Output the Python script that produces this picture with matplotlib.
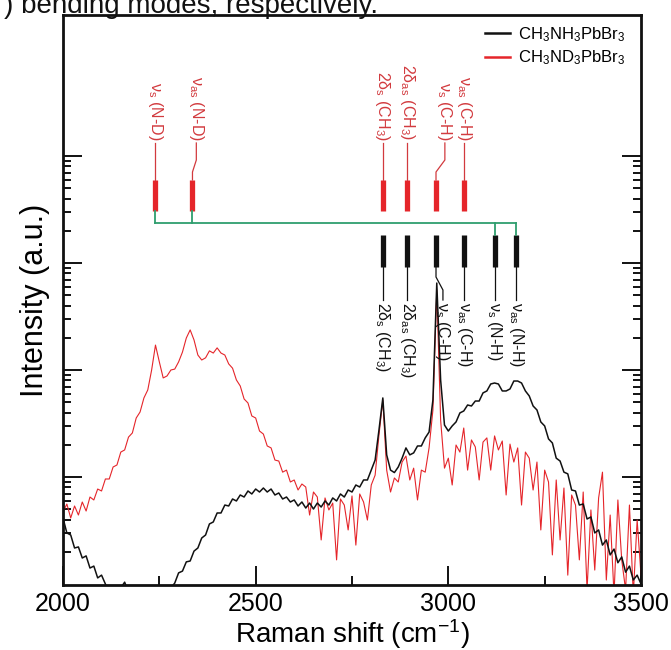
import numpy as np
import matplotlib
matplotlib.use('Agg')
import matplotlib.pyplot as plt
import matplotlib.transforms as mtransforms
from matplotlib.ticker import FixedLocator, NullFormatter

plt.rcParams['font.family'] = ['Liberation Sans', 'DejaVu Sans']
plt.rcParams['mathtext.fontset'] = 'custom'
plt.rcParams['mathtext.rm'] = 'Liberation Sans'
plt.rcParams['mathtext.it'] = 'Liberation Sans:italic'
plt.rcParams['mathtext.bf'] = 'Liberation Sans:bold'
plt.rcParams['mathtext.default'] = 'regular'

# ---------------- data ----------------
raman_shift = np.arange(2000, 3501, 10)

nh_intensity = [
    4.14, 3.00, 2.87, 2.17, 2.22, 1.75, 1.83, 1.41, 1.47, 1.14,
    1.21, 1.00, 0.84, 0.88, 0.79, 0.92, 1.04, 0.84, 0.79, 0.82,
    0.77, 0.81, 0.75, 0.82, 0.77, 0.84, 0.81, 0.86, 0.92, 1.02,
    1.27, 1.32, 1.61, 1.64, 2.03, 2.17, 2.69, 2.87, 3.64, 3.80,
    4.61, 4.61, 5.47, 5.36, 6.23, 5.97, 6.79, 6.50, 7.40, 6.94,
    7.72, 7.24, 7.89, 7.24, 7.72, 6.79, 7.09, 6.23, 6.50, 5.84,
    6.10, 5.36, 5.84, 5.13, 5.71, 5.02, 5.71, 5.24, 5.97, 5.47,
    6.37, 5.97, 6.94, 6.50, 7.56, 7.24, 8.42, 8.06, 9.38, 9.38,
    11.6, 14.4, 27.5, 54.8, 16.1, 11.6, 11.0, 12.4, 15.0, 18.7,
    16.1, 16.8, 19.5, 19.5, 23.2, 26.3, 52.5, 650.0, 80.7, 30.6,
    26.9, 30.0, 32.7, 39.7, 41.4, 47.1, 46.1, 51.3, 51.3, 61.1,
    63.7, 74.0, 75.6, 74.0, 63.7, 63.7, 66.5, 78.9, 78.9, 75.6,
    63.7, 57.2, 46.1, 42.3, 32.7, 30.0, 22.7, 20.8, 15.0, 14.1,
    11.1, 10.7, 7.56, 7.40, 5.47, 5.59, 4.05, 4.23, 3.00, 3.20,
    2.31, 2.58, 1.87, 2.12, 1.58, 1.79, 1.29, 1.47, 1.09, 1.21,
    1.00,
]

nd_intensity = [
    4.71, 5.59, 4.14, 5.36, 4.41, 5.84, 4.81, 6.50, 6.10, 7.72,
    7.40, 9.58, 9.58, 12.4, 12.95, 17.1, 17.9, 23.6, 25.8, 35.6,
    40.5, 54.8, 65.1, 100.0, 171.0, 119.0, 84.3, 88.0, 100.0, 102.0,
    119.0, 147.0, 199.0, 237.0, 191.0, 138.0, 124.0, 130.0, 151.0, 144.0,
    161.0, 144.0, 138.0, 114.0, 104.0, 80.7, 70.9, 53.6, 49.2, 37.2,
    35.6, 26.9, 25.2, 19.5, 18.7, 14.4, 14.1, 11.1, 11.6, 8.98,
    9.38, 7.56, 8.60, 8.06, 4.41, 7.24, 6.50, 2.58, 6.37, 4.92,
    5.71, 1.68, 6.23, 5.47, 3.20, 6.65, 2.31, 6.94, 5.84, 3.96,
    8.42, 10.4, 24.7, 52.5, 11.6, 7.24, 9.79, 8.98, 13.8, 15.7,
    9.38, 12.1, 6.10, 11.6, 11.1, 18.7, 42.3, 559.0, 34.1, 12.1,
    15.0, 8.42, 19.9, 17.1, 28.7, 11.6, 22.2, 19.1, 9.38, 21.2,
    23.2, 11.6, 24.2, 17.9, 21.7, 6.79, 20.3, 13.8, 18.7, 5.47,
    17.1, 15.0, 7.56, 13.8, 3.20, 11.6, 8.98, 1.87, 9.38, 2.58,
    7.89, 1.21, 6.79, 5.47, 1.68, 7.24, 0.88, 4.92, 1.35, 6.37,
    11.1, 1.09, 4.41, 0.79, 6.10, 1.68, 0.88, 5.47, 0.79, 3.96,
    1.21,
]

series_names = [r'CH$_3$NH$_3$PbBr$_3$', r'CH$_3$ND$_3$PbBr$_3$']

nd_modes = [2239, 2336, 2830, 2893, 2968, 3041]
nd_labels = ['ν$_s$ (N-D)', 'ν$_{as}$ (N-D)', '2δ$_s$ (CH$_3$)',
             '2δ$_{as}$ (CH$_3$)', 'ν$_s$ (C-H)', 'ν$_{as}$ (C-H)']
nh_modes = [2830, 2893, 2968, 3041, 3121, 3176]
nh_labels = ['2δ$_s$ (CH$_3$)', '2δ$_{as}$ (CH$_3$)', 'ν$_s$ (C-H)',
             'ν$_{as}$ (C-H)', 'ν$_s$ (N-H)', 'ν$_{as}$ (N-H)']

x_major = [2000, 2500, 3000, 3500]
x_minor = [2250, 2750, 3250]

# ---------------- styling ----------------
BLACK = '#111111'
RED = '#e5252a'
RED_TXT = '#d23a3e'
GREEN = '#2f9e6e'

W, H = 671, 650
fig = plt.figure(figsize=(W / 100, H / 100), dpi=100)
ax_l, ax_r, ax_t, ax_b = 63, 641, 15, 585
ax = fig.add_axes([ax_l / W, 1 - ax_b / H, (ax_r - ax_l) / W, (ax_b - ax_t) / H])

def ya(px):
    return (ax_b - px) / (ax_b - ax_t)

red_line, = ax.plot(raman_shift, nd_intensity, color=RED, lw=0.8, zorder=2)
black_line, = ax.plot(raman_shift, nh_intensity, color=BLACK, lw=1.1, zorder=3)

ax.set_yscale('log')
ax.set_xlim(2000, 3500)
ax.set_ylim(10 ** -0.0094, 10 ** 5.318)

ax.xaxis.set_major_locator(FixedLocator(x_major))
ax.xaxis.set_minor_locator(FixedLocator(x_minor))
ax.yaxis.set_major_locator(FixedLocator([10, 100, 1000, 10000]))
ax.yaxis.set_minor_locator(FixedLocator([k * 10 ** n for n in range(0, 4) for k in range(2, 10)]))
ax.yaxis.set_major_formatter(NullFormatter())
ax.yaxis.set_minor_formatter(NullFormatter())

ax.tick_params(axis='x', which='both', direction='in', top=False, bottom=True,
               labelsize=18, pad=5, width=1.4, color=BLACK)
ax.tick_params(axis='x', which='major', length=14)
ax.tick_params(axis='x', which='minor', length=6.5)
ax.tick_params(axis='y', which='both', direction='in', left=True, right=True,
               width=1.4, color=BLACK)
ax.tick_params(axis='y', which='major', length=14)
ax.tick_params(axis='y', which='minor', length=6)
for s in ax.spines.values():
    s.set_linewidth(2.0)
    s.set_color(BLACK)

ax.set_xlabel('Raman shift (cm$^{-1}$)', fontsize=20, labelpad=1)
ax.set_ylabel('Intensity (a.u.)', fontsize=22, labelpad=6)

leg = ax.legend([black_line, red_line], series_names, loc='upper right',
                bbox_to_anchor=(0.99, 1.0), frameon=False, fontsize=12,
                handlelength=1.5, handletextpad=0.5, labelspacing=0.3,
                borderaxespad=0.2)
for h in leg.get_lines():
    h.set_linewidth(1.8)

# ---------------- mode markers ----------------
tr = mtransforms.blended_transform_factory(ax.transData, ax.transAxes)
top_off = [0, 10, 0, 0, 23, 0]
bot_off = [0, 0, 18, 0, 0, 0]

rb_top, rb_bot = ya(180), ya(211)
bb_top, bb_bot = ya(235), ya(267)
green_y = ya(223)
lab_top_end = ya(143)
lab_bot_start = ya(300)

for m, lab, off in zip(nd_modes, nd_labels, top_off):
    ax.plot([m, m], [rb_bot, rb_top], transform=tr, color=RED, lw=3.8,
            solid_capstyle='butt', clip_on=False, zorder=4)
    lx = m + off
    if off:
        xs, ys = [lx, lx, m, m], [lab_top_end, ya(160), ya(172), rb_top]
    else:
        xs, ys = [m, m], [lab_top_end, rb_top]
    ax.plot(xs, ys, transform=tr, color=RED_TXT, lw=0.9, clip_on=False, zorder=4)
    ax.text(lx, lab_top_end + 0.004, lab, transform=tr, rotation=-90,
            rotation_mode='anchor', ha='right', va='center', color=RED_TXT,
            fontsize=11.5)

for m, lab, off in zip(nh_modes, nh_labels, bot_off):
    ax.plot([m, m], [bb_bot, bb_top], transform=tr, color=BLACK, lw=3.8,
            solid_capstyle='butt', clip_on=False, zorder=4)
    lx = m + off
    if off:
        xs, ys = [m, m, lx, lx], [bb_bot, ya(277), ya(290), lab_bot_start]
    else:
        xs, ys = [m, m], [bb_bot, lab_bot_start]
    ax.plot(xs, ys, transform=tr, color=BLACK, lw=0.9, clip_on=False, zorder=4)
    ax.text(lx, lab_bot_start - 0.004, lab, transform=tr, rotation=-90,
            rotation_mode='anchor', ha='left', va='center', color=BLACK,
            fontsize=11.5)

# green connector between N-D and N-H modes
ax.plot([nd_modes[0], nh_modes[-1]], [green_y, green_y], transform=tr,
        color=GREEN, lw=1.3, zorder=4)
for m in nd_modes[:2]:
    ax.plot([m, m], [rb_bot, green_y], transform=tr, color=GREEN, lw=1.3, zorder=4)
for m in nh_modes[-2:]:
    ax.plot([m, m], [green_y, bb_top], transform=tr, color=GREEN, lw=1.3, zorder=4)

# cropped caption text from the page above the figure
fig.text(4 / W, 1 - 13 / H, ') bending modes, respectively.', fontsize=20,
         va='baseline', ha='left', color=BLACK)

fig.savefig('out.png', dpi=100)
